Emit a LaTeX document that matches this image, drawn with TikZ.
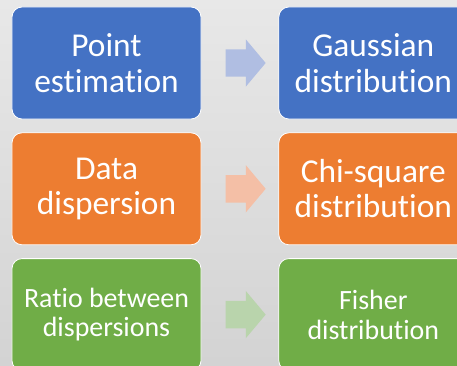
\documentclass[tikz,border=0pt]{standalone}
\usepackage{fontspec}
\setmainfont{Carlito}[Ligatures=NoCommon]
\usetikzlibrary{positioning, shapes.arrows, calc}
\definecolor{CBlue}{HTML}{4472C4}
\definecolor{COrange}{HTML}{ED7D31}
\definecolor{CGreen}{HTML}{70AD47}
\definecolor{LBlue}{HTML}{B0BEE2}
\definecolor{LOrange}{HTML}{F4BFA6}
\definecolor{LGreen}{HTML}{B9D4AC}
\definecolor{BgTop}{HTML}{E8E8E8}
\definecolor{BgBottom}{HTML}{D3D3D3}

\tikzset{
    box/.style={rounded corners=10bp, draw=white, line width=0.8bp,
        minimum width=189bp, minimum height=112bp, align=center,
        text=white, inner sep=2bp},
    bigtext/.style={font=\fontsize{33.5}{35.5}\selectfont},
    smalltext/.style={font=\fontsize{28}{30}\selectfont},
    blockarrow/.style={single arrow, draw=none, minimum height=40bp,
        inner sep=13.5bp, single arrow head extend=10bp,
        single arrow tip angle=100}
}

\begin{document}
\begin{tikzpicture}[x=1bp, y=1bp, node distance=13bp and 77bp]
    % Background
    \shade[top color=BgTop, bottom color=BgBottom] (0,0) rectangle (457,365);
    \useasboundingbox (0,0) rectangle (457,365);

    % Left column
    \node[box, bigtext, fill=CBlue] (pointest) at (106.5, 302) {Point\\estimation};
    \node[box, bigtext, fill=COrange, below=of pointest] (datadisp) {Data\\dispersion};
    \node[box, smalltext, fill=CGreen, below=of datadisp] (ratio) {Ratio between\\dispersions};

    % Right column
    \node[box, bigtext, fill=CBlue, right=of pointest] (gauss) {Gaussian\\distribution};
    \node[box, bigtext, fill=COrange, right=of datadisp] (chisq) {Chi-square\\distribution};
    \node[box, smalltext, fill=CGreen, right=of ratio] (fisher) {Fisher\\distribution};

    % Arrows between the columns
    \node[blockarrow, fill=LBlue] (toGauss) at ($(pointest.east)!0.5!(gauss.west)$) {};
    \node[blockarrow, fill=LOrange] (toChisq) at ($(datadisp.east)!0.5!(chisq.west)$) {};
    \node[blockarrow, fill=LGreen] (toFisher) at ($(ratio.east)!0.5!(fisher.west)$) {};
\end{tikzpicture}
\end{document}
